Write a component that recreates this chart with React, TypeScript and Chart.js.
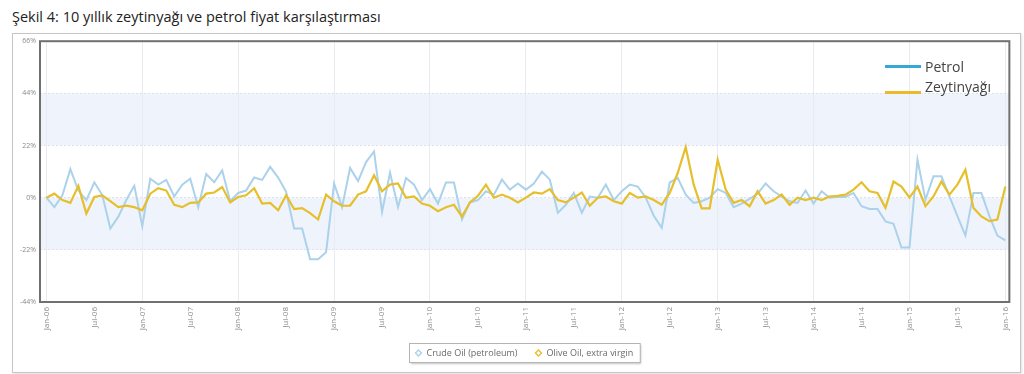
import React, { useEffect, useRef } from "react";
import { Chart, registerables } from "chart.js";

Chart.register(...registerables);

const TITLE = "Şekil 4: 10 yıllık zeytinyağı ve petrol fiyat karşılaştırması";

const tickLabels = [
  "Jan-06", "Jul-06", "Jan-07", "Jul-07", "Jan-08", "Jul-08", "Jan-09",
  "Jul-09", "Jan-10", "Jul-10", "Jan-11", "Jul-11", "Jan-12", "Jul-12",
  "Jan-13", "Jul-13", "Jan-14", "Jul-14", "Jan-15", "Jul-15", "Jan-16",
];
const monthsPerTick = 6;

const yTicks = [-44, -22, 0, 22, 44, 66];
const shadedBands = [
  [22, 44],
  [-22, 0],
];

const seriesNames = ["Crude Oil (petroleum)", "Olive Oil, extra virgin"];
const insetNames = ["Petrol", "Zeytinyağı"];

// Monthly % change, Jan-06 .. Jan-16 (121 months)
const crudeOil = [
  0, -4, 1, 12, 3, -1, 6.5, 1, -13, -8,
  -1, 5, -12, 8, 5.5, 7.5, 0.5, 5.5, 8, -4,
  10, 6.5, 11.5, -1.5, 2, 3, 8.5, 7.5, 13, 8.5,
  2.5, -13, -13, -26, -26, -23, 6, -4, 12.5, 7,
  15, 19.5, -6, 10.5, -4, 8.3, 5.5, -1, 3.6, -2.5,
  6.4, 6.4, -9.2, -2, -1, 2.7, 1.3, 7.6, 3.4, 6,
  3.4, 6, 11, 7.6, -6.4, -3, 2, -6.4, 0.5, 0,
  5.5, -1, 2.7, 5.5, 4.7, 0, -7.6, -12.7, 6.4, 8.3,
  1.3, -2.2, -1.5, 0, 3.6, 2, -4, -2.5, -0.5, 1.7,
  6, 2.7, 0.5, -1.5, -2.2, 3, -2.5, 2.7, 0, 0.3,
  0.3, 2, -3.6, -4.8, -4.8, -10, -11, -21, -21, 16,
  -0.8, 9, 9, 0.6, -7.8, -16, 2, 2, -7.8, -16,
  -18,
];

const oliveOil = [
  0, 1.7, -1, -2.2, 5, -6.7, 0.3, 1, -1.5, -4,
  -3.4, -4, -5.3, 1.7, 4, 3, -3, -4, -2.2, -2,
  1.7, 2.2, 4.5, -2, 0.3, 1, 4, -2.5, -2.2, -5.3,
  1, -4.8, -4.4, -6.5, -9.2, 1.3, -1.5, -3.4, -3.4, 1.3,
  2.7, 9.5, 2.7, 5.5, 6, 0, 0.5, -2.5, -3.4, -5.7,
  -4, -3, -8, -2, 0.8, 5.5, 0, 1.3, 0, -2,
  0, 2.2, 1.7, 3.6, -1, -2, 0, 2.2, -3.4, 0,
  0.5, -1.5, -2.5, 2, 0, 0.5, -1, -3, 2, 10.4,
  21.3, 5.5, -4.5, -4.5, 16, 3.4, -2.2, -1, -3.6, 2.7,
  -2.5, -1, 1.3, -3, 0, -1, 0, -1, 0.5, 0.8,
  1.3, 3.4, 6.5, 2.7, 2, -4.3, 6.8, 4.7, 0, 4.7,
  -3.6, 0.5, 6.8, 1.3, 5.5, 11.8, -4.3, -7.9, -9.9, -9.2,
  4.7,
];

const crudeColor = "#abd2ea";
const oliveColor = "#e6bf2c";
const insetCrudeColor = "#35a8d8";
const insetOliveColor = "#e9bb2a";
const bandColor = "#eff3fb";

const FONT = "'Open Sans', sans-serif";

export default function App() {
  const ref = useRef<HTMLCanvasElement>(null);

  useEffect(() => {
    const canvas = ref.current;
    if (!canvas) return;

    const bandsPlugin = {
      id: "bands",
      beforeDraw(chart: any) {
        const { ctx, chartArea } = chart;
        const y = chart.scales.y;
        ctx.save();
        ctx.fillStyle = "#ffffff";
        ctx.fillRect(chartArea.left, chartArea.top, chartArea.right - chartArea.left, chartArea.bottom - chartArea.top);
        ctx.fillStyle = bandColor;
        shadedBands.forEach(([lo, hi]) => {
          const yTop = y.getPixelForValue(hi);
          const yBot = y.getPixelForValue(lo);
          ctx.fillRect(chartArea.left, yTop, chartArea.right - chartArea.left, yBot - yTop);
        });
        ctx.restore();
      },
    };

    const framePlugin = {
      id: "frame",
      afterDatasetsDraw(chart: any) {
        const { ctx, chartArea } = chart;
        ctx.save();
        ctx.strokeStyle = "#707070";
        ctx.lineWidth = 2;
        ctx.strokeRect(chartArea.left, chartArea.top, chartArea.right - chartArea.left, chartArea.bottom - chartArea.top);
        ctx.restore();
      },
    };

    const legendPlugin = {
      id: "boxLegend",
      afterDraw(chart: any) {
        const { ctx, chartArea } = chart;
        const items = [
          { text: seriesNames[0], color: crudeColor },
          { text: seriesNames[1], color: oliveColor },
        ];
        ctx.save();
        ctx.font = `9px ${FONT}`;
        const padL = 6, padR = 7, mk = 3, gap = 5, itemGap = 18;
        const widths = items.map((it) => ctx.measureText(it.text).width);
        const total = padL + padR + widths.reduce((a, w) => a + w + mk * 2 + gap, 0) + itemGap * (items.length - 1);
        const cx = (chartArea.left + chartArea.right) / 2;
        const left = Math.round(cx - total / 2) + 0.5;
        const top = Math.round(chartArea.bottom + 41) + 0.5;
        const h = 19;
        ctx.shadowColor = "rgba(0,0,0,0.25)";
        ctx.shadowOffsetX = 1;
        ctx.shadowOffsetY = 1;
        ctx.shadowBlur = 2;
        ctx.fillStyle = "#ffffff";
        ctx.fillRect(left, top, total, h);
        ctx.shadowColor = "transparent";
        ctx.strokeStyle = "#b4b4b4";
        ctx.lineWidth = 1;
        ctx.strokeRect(left, top, total, h);
        let x = left + padL;
        const cy = top + h / 2;
        items.forEach((it, i) => {
          ctx.beginPath();
          ctx.moveTo(x + mk, cy - mk);
          ctx.lineTo(x + mk * 2, cy);
          ctx.lineTo(x + mk, cy + mk);
          ctx.lineTo(x, cy);
          ctx.closePath();
          ctx.fillStyle = "#ffffff";
          ctx.fill();
          ctx.strokeStyle = it.color;
          ctx.lineWidth = 1.4;
          ctx.stroke();
          x += mk * 2 + gap;
          ctx.fillStyle = "#6a6a6a";
          ctx.textBaseline = "middle";
          ctx.textAlign = "left";
          ctx.fillText(it.text, x, cy + 0.5);
          x += widths[i] + itemGap;
        });
        ctx.restore();
      },
    };

    const chart = new Chart(canvas, {
      type: "line",
      data: {
        datasets: [
          {
            label: seriesNames[1],
            data: oliveOil.map((v, i) => ({ x: i, y: v })),
            borderColor: oliveColor,
            backgroundColor: oliveColor,
            borderWidth: 2.2,
            pointRadius: 0,
            tension: 0,
          },
          {
            label: seriesNames[0],
            data: crudeOil.map((v, i) => ({ x: i, y: v })),
            borderColor: crudeColor,
            backgroundColor: crudeColor,
            borderWidth: 2,
            pointRadius: 0,
            tension: 0,
          },
        ],
      },
      options: {
        animation: false,
        responsive: false,
        maintainAspectRatio: false,
        layout: { padding: { top: 7, left: 0, right: 7, bottom: 30 } },
        plugins: { legend: { display: false }, tooltip: { enabled: false } },
        scales: {
          x: {
            type: "linear",
            min: -0.8,
            max: crudeOil.length - 0.5,
            afterBuildTicks: (s: any) => {
              s.ticks = tickLabels.map((_, k) => ({ value: k * monthsPerTick }));
            },
            afterFit: (s: any) => {
              s.height = 40;
            },
            grid: {
              color: (c: any) =>
                c.tick && c.tick.value % (monthsPerTick * 2) === 0 ? "#e8ebf1" : "rgba(0,0,0,0)",
              drawTicks: false,
            },
            border: { display: false },
            ticks: {
              autoSkip: false,
              maxRotation: 90,
              minRotation: 90,
              padding: 5,
              font: { size: 8, family: FONT },
              color: "#8a8a8a",
              callback: (v: any) => tickLabels[Math.round(Number(v) / monthsPerTick)] ?? "",
            },
          },
          y: {
            min: yTicks[0],
            max: yTicks[yTicks.length - 1],
            afterBuildTicks: (s: any) => {
              s.ticks = yTicks.map((v) => ({ value: v }));
            },
            afterFit: (s: any) => {
              s.width = 28;
            },
            grid: { color: "#dde2ea", drawTicks: false },
            border: { display: false, dash: [2, 2] },
            ticks: {
              padding: 4,
              font: { size: 7, family: FONT },
              color: "#8a8a8a",
              callback: (v: any) => `${v}%`,
            },
          },
        },
      },
      plugins: [bandsPlugin, framePlugin, legendPlugin],
    } as any);

    return () => chart.destroy();
  }, []);

  return (
    <div>
      <div
        style={{
          position: "absolute",
          left: 12,
          top: 10,
          fontFamily: FONT,
          fontSize: 14.5,
          lineHeight: "14.5px",
          color: "#222",
          whiteSpace: "nowrap",
        }}
      >
        {TITLE}
      </div>
      <div
        style={{
          position: "absolute",
          left: 12,
          top: 33,
          width: 1009,
          height: 340,
          boxSizing: "border-box",
          border: "1px solid #c6c6c6",
          boxShadow: "1px 1px 2px rgba(0,0,0,0.12)",
        }}
      />
      <canvas
        ref={ref}
        width={1008}
        height={339}
        style={{ position: "absolute", left: 12, top: 33, width: 1008, height: 339 }}
      />
      <div style={{ position: "absolute", left: 885, top: 65, width: 36, height: 3, background: insetCrudeColor }} />
      <div style={{ position: "absolute", left: 885, top: 91, width: 36, height: 3, background: insetOliveColor }} />
      <div
        style={{
          position: "absolute",
          left: 925,
          top: 60,
          fontFamily: FONT,
          fontSize: 14,
          lineHeight: "14px",
          color: "#444",
          whiteSpace: "nowrap",
        }}
      >
        {insetNames[0]}
      </div>
      <div
        style={{
          position: "absolute",
          left: 925,
          top: 80,
          fontFamily: FONT,
          fontSize: 14,
          lineHeight: "14px",
          color: "#444",
          whiteSpace: "nowrap",
        }}
      >
        {insetNames[1]}
      </div>
    </div>
  );
}
